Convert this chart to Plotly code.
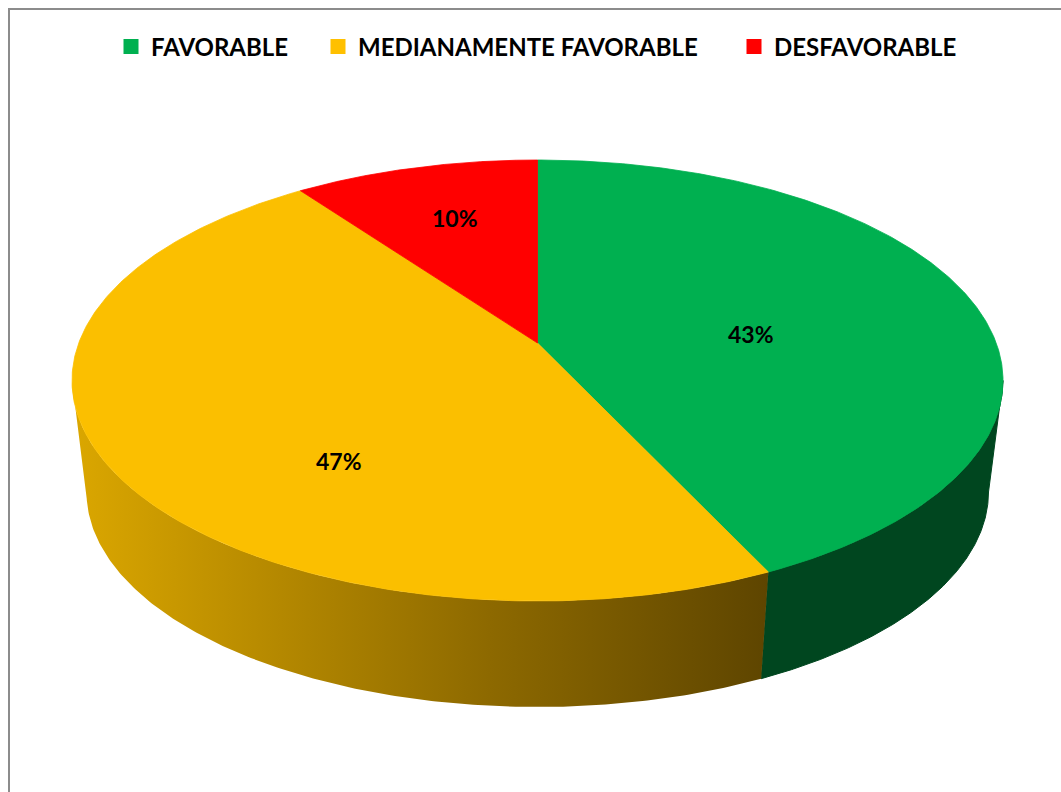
import math
import numpy as np
import plotly.graph_objects as go

# ---- data ----
categories = ["FAVORABLE", "MEDIANAMENTE FAVORABLE", "DESFAVORABLE"]
values = [43, 47, 10]
labels_text = ["43%", "47%", "10%"]

# ---- styles ----
top_colors = ["#00B050", "#FBBF00", "#FF0000"]
side_fill = [
    dict(color="#00461F"),
    dict(gradient=[[0, "#DBA700"], [0.6, "#8D6900"], [1, "#5E4500"]]),
    dict(color="#A00000"),
]
legend_colors = ["#00B050", "#FFC000", "#FF0000"]
FONT = "Lato"

# ---- geometry (pixel space of the 1061x792 canvas) ----
W, H = 1061, 792
CX, CY, A, B = 537.5, 380.5, 465.5, 220.5       # top ellipse
CX2, CY2, A2, B2 = 537.5, 492.0, 451.0, 215.0   # bottom ellipse
T = -0.170                                       # perspective shift of pie centre
LABEL_R = [0.47, 0.64, 0.68]
LABEL_SHIFT = [7.4, -21.3, 0.9]
LEGEND_TEXT_X = [151, 358, 774]                  # where each legend text starts


def proj(phi_deg, r=1.0):
    p = math.radians(phi_deg)
    u, v = r * math.sin(p), -r * math.cos(p)
    s = math.sqrt(1 - T * T)
    d = 1 + T * v
    return u * s / d, (v + T) / d


def psi_of(phi_deg):
    if phi_deg >= 360 - 1e-9:
        return 360.0
    up, vp = proj(phi_deg)
    return math.degrees(math.atan2(up, -vp)) % 360


total = sum(values)
bounds = [0.0]
for v in values:
    bounds.append(bounds[-1] + 360.0 * v / total)

fig = go.Figure()

# side faces (front half only)
for i in range(len(values)):
    p0, p1 = psi_of(bounds[i]), psi_of(bounds[i + 1])
    lo, hi = max(p0, 90.0), min(p1, 270.0)
    if hi <= lo:
        continue
    ps = np.linspace(lo, hi, 200)
    r = np.radians(ps)
    xt = CX + A * np.sin(r)
    yt = CY - B * np.cos(r)
    xb = CX2 + A2 * np.sin(r)
    yb = CY2 - B2 * np.cos(r)
    xs = np.concatenate([xt, xb[::-1], xt[:1]])
    ys = np.concatenate([yt, yb[::-1], yt[:1]])
    sf = side_fill[i]
    kw = dict(x=xs, y=ys, mode="lines", fill="toself", showlegend=False,
              hoverinfo="skip")
    if "gradient" in sf:
        kw["line"] = dict(width=0, color="rgba(0,0,0,0)")
        kw["fillgradient"] = dict(type="horizontal", colorscale=sf["gradient"])
    else:
        kw["line"] = dict(width=1, color=sf["color"])
        kw["fillcolor"] = sf["color"]
    fig.add_trace(go.Scatter(**kw))

# top faces
c_up, c_vp = 0.0, T
for i in range(len(values)):
    phis = np.linspace(bounds[i], bounds[i + 1], 300)
    pts = [proj(p) for p in phis]
    xs = [CX + A * c_up] + [CX + A * p[0] for p in pts] + [CX + A * c_up]
    ys = [CY + B * c_vp] + [CY + B * p[1] for p in pts] + [CY + B * c_vp]
    fig.add_trace(go.Scatter(x=xs, y=ys, mode="lines", fill="toself",
                             fillcolor=top_colors[i],
                             line=dict(width=0.8, color=top_colors[i]),
                             showlegend=False, hoverinfo="skip"))

# labels
for i in range(len(values)):
    mid = (bounds[i] + bounds[i + 1]) / 2 + LABEL_SHIFT[i]
    up, vp = proj(mid, LABEL_R[i])
    fig.add_annotation(x=CX + A * up, y=CY + B * vp, text=labels_text[i],
                       showarrow=False,
                       font=dict(family=FONT, size=23, color="black",
                                 weight="bold"))

# legend entries, each in its own legend so spacing can match
legend_layout = {}
for i, name in enumerate(categories):
    lg = "legend" if i == 0 else f"legend{i + 1}"
    fig.add_trace(go.Scatter(x=[None], y=[None], mode="markers", name=name,
                             legend=lg,
                             marker=dict(symbol="square", size=15,
                                         color=legend_colors[i])))
    legend_layout[lg] = dict(
        orientation="h", x=(LEGEND_TEXT_X[i] - 40) / W, xanchor="left",
        y=1 - 47 / H, yanchor="middle",
        font=dict(family=FONT, size=24, color="black", weight="bold"),
        itemsizing="trace", bgcolor="rgba(0,0,0,0)")

# frame
fig.add_shape(type="rect", x0=9, y0=9, x1=W + 10, y1=H + 10,
              line=dict(color="#8C8C8C", width=2), layer="above")

fig.update_layout(
    width=W, height=H,
    margin=dict(l=0, r=0, t=0, b=0),
    paper_bgcolor="white", plot_bgcolor="white",
    xaxis=dict(range=[0, W], visible=False, fixedrange=True),
    yaxis=dict(range=[H, 0], visible=False, fixedrange=True),
    showlegend=True,
    **legend_layout,
)

fig.write_html("out.html")
